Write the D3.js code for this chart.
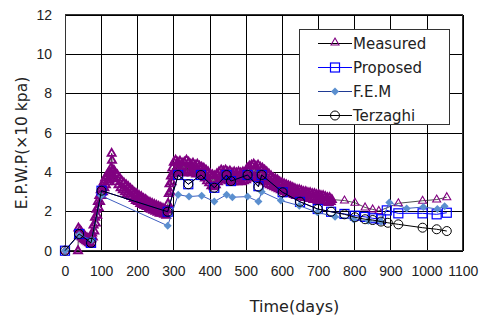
<!DOCTYPE html>
<html>
<head>
<meta charset="utf-8">
<script src="https://cdn.jsdelivr.net/npm/d3@7"></script>
<style>
  body { margin: 0; background: #fff; }
  svg { display: block; font-family: "DejaVu Sans", sans-serif; }
  .grid line { stroke: #000; stroke-width: 1; shape-rendering: crispEdges; }
  .grid path { display: none; }
  .grid text { fill: #222; font-size: 14px; }
</style>
</head>
<body>
<div id="chart"></div>
<script>
// Measured (days, ×10 kPa)
var measured = [
  [0,0],[36,0.0],[37,1.15],[39,0.8],[41,1.05],[43,0.75],[45,0.95],[47,0.7],[49,0.85],[51,0.6],[53,0.8],
  [55,0.55],[57,0.7],[59,0.5],[61,0.65],[63,0.45],[65,0.6],[67,0.4],[69,0.55],[71,0.35],[73,0.6],[75,0.9],
  [77,0.7],[79,1.3],[81,1.0],[83,1.7],[85,1.4],[87,2.1],[89,1.8],[91,2.5],[93,2.2],[95,2.8],[97,2.5],
  [99,3.1],[101,2.8],[103,3.3],[105,3.0],[107,3.5],[109,3.2],[111,3.7],[113,3.35],[115,3.8],[117,3.5],
  [119,3.9],[121,3.6],[123,4.0],[125,3.7],[127,4.2],[129,4.95],[130,4.6],[131,4.1],[133,3.7],[135,4.1],
  [137,3.65],[139,3.95],[142,3.5],[145,3.85],[148,3.35],[151,3.7],[154,3.2],[157,3.55],[160,3.1],
  [163,3.45],[166,3.0],[169,3.35],[172,2.9],[175,3.25],[178,2.8],[181,3.15],[184,2.75],[187,3.05],
  [190,2.65],[193,2.95],[196,2.55],[199,2.9],[202,2.5],[205,2.8],[208,2.4],[211,2.75],[214,2.35],
  [217,2.65],[220,2.3],[223,2.6],[226,2.25],[229,2.5],[232,2.15],[235,2.45],[238,2.1],[241,2.4],
  [244,2.05],[247,2.35],[250,2.0],[253,2.3],[256,1.95],[259,2.25],[262,1.9],[265,2.2],[268,1.9],
  [271,2.15],[274,1.85],[277,2.1],[280,1.8],[283,2.05],[285,2.4],[287,2.9],[289,3.4],[291,3.0],
  [293,3.8],[295,3.5],[297,4.2],[299,3.9],[301,4.5],[303,4.0],[306,4.6],[309,4.1],[312,4.5],[315,4.0],
  [318,4.55],[321,4.05],[324,4.45],[327,3.95],[330,4.5],[333,4.0],[336,4.6],[339,4.1],[342,4.5],
  [345,4.0],[348,4.4],[351,3.95],[354,4.45],[357,4.0],[360,4.35],[363,3.9],[366,4.4],[369,3.95],
  [372,4.3],[375,3.85],[378,4.25],[381,3.8],[384,4.2],[387,3.7],[390,4.1],[393,3.55],[396,4.0],
  [399,3.45],[402,3.9],[405,3.3],[408,3.85],[411,3.25],[414,3.8],[417,3.35],[420,3.9],[423,3.5],
  [426,4.0],[429,3.6],[432,4.1],[435,3.6],[438,4.05],[441,3.65],[444,4.1],[447,3.6],[450,4.0],
  [453,3.55],[456,4.05],[459,3.5],[462,3.95],[465,3.5],[468,4.0],[471,3.55],[474,3.95],[477,3.5],
  [480,4.0],[483,3.55],[486,3.95],[489,3.5],[492,4.0],[495,3.55],[498,3.95],[501,3.6],[504,4.2],
  [507,3.7],[510,4.3],[513,3.75],[516,4.35],[519,3.8],[522,4.4],[525,3.75],[528,4.3],[531,3.7],
  [534,4.35],[537,3.65],[540,4.25],[543,3.6],[546,4.2],[549,3.55],[552,4.1],[555,3.5],[558,4.0],
  [561,3.4],[564,3.9],[567,3.35],[570,3.8],[573,3.3],[576,3.7],[579,3.25],[582,3.65],[585,3.2],
  [588,3.6],[591,3.15],[594,3.5],[597,3.1],[600,3.45],[603,3.05],[606,3.4],[609,3.0],[612,3.35],
  [615,2.95],[618,3.3],[621,2.9],[624,3.25],[627,2.9],[630,3.2],[633,2.85],[636,3.15],[639,2.8],
  [642,3.1],[645,2.8],[648,3.1],[651,2.75],[654,3.05],[657,2.75],[660,3.0],[663,2.7],[666,3.0],
  [669,2.7],[672,2.95],[675,2.65],[678,2.95],[681,2.65],[684,2.9],[687,2.6],[690,2.9],[693,2.6],
  [696,2.85],[699,2.55],[702,2.85],[705,2.55],[708,2.8],[711,2.5],[714,2.8],[717,2.5],[720,2.75],
  [723,2.5],[726,2.7],[729,2.45],[732,2.7],[735,2.5],[738,2.6],
  [773,2.55],[802,2.44],[830,2.2],[851,2.1],[868,2.02],[922,2.41],[989,2.54],[1028,2.6],[1056,2.72]
];
var proposed = [
  [0,0],[39,0.85],[72,0.4],[101,3.05],[284,1.98],[313,3.85],[341,3.38],[376,3.85],[413,3.2],
  [447,3.85],[459,3.54],[505,3.85],[535,3.28],[544,3.85],[602,2.97],[650,2.48],[699,2.12],
  [736,1.98],[773,1.87],[802,1.78],[830,1.72],[851,1.65],[874,1.6],[890,2.05],[922,1.9],
  [989,1.9],[1028,1.85],[1056,1.93]
];
var fem = [
  [0,0],[39,0.8],[74,0.55],[100,2.8],[284,1.27],[313,2.85],[343,2.75],[378,2.8],[413,2.5],
  [447,2.85],[463,2.72],[505,2.75],[535,2.5],[544,3.0],[597,2.55],[648,2.29],[698,1.95],
  [747,1.73],[798,1.6],[839,1.52],[874,1.48],[897,2.45],[945,2.15],[991,2.22],[1030,2.12],[1050,2.26]
];
var terzaghi = [
  [0,0],[39,0.85],[72,0.4],[101,3.05],[284,1.98],[313,3.85],[341,3.38],[376,3.85],[413,3.2],
  [447,3.85],[459,3.54],[505,3.85],[535,3.25],[544,3.85],[602,2.97],[650,2.49],[699,2.12],
  [736,1.98],[773,1.85],[802,1.7],[830,1.6],[851,1.56],[874,1.48],[893,1.42],[922,1.34],
  [989,1.17],[1028,1.09],[1056,1.0]
];
var xTicks = [0,100,200,300,400,500,600,700,800,900,1000,1100];
var yTicks = [0,2,4,6,8,10,12];
var seriesNames = ["Measured","Proposed","F.E.M","Terzaghi"];

var W = 480, H = 322,
    plotL = 65, plotR = 462.7, plotT = 14.7, plotB = 250.7;

var svg = d3.select("#chart").append("svg").attr("width", W).attr("height", H);

var x = d3.scaleLinear().domain([0, 1100]).range([plotL, plotR]);
var y = d3.scaleLinear().domain([0, 12]).range([plotB, plotT]);

svg.append("g")
  .attr("class", "grid")
  .attr("transform", "translate(0," + plotB + ")")
  .call(d3.axisBottom(x).tickValues(xTicks).tickSize(-(plotB - plotT)).tickPadding(15).tickFormat(d3.format("d")));

svg.append("g")
  .attr("class", "grid")
  .attr("transform", "translate(" + plotL + ",0)")
  .call(d3.axisLeft(y).tickValues(yTicks).tickSize(-(plotR - plotL)).tickPadding(13));

svg.append("rect")
  .attr("x", plotL).attr("y", plotT)
  .attr("width", plotR - plotL).attr("height", plotB - plotT)
  .attr("fill", "none").attr("stroke", "#333").attr("shape-rendering", "crispEdges");

var line = d3.line().x(function(d) { return x(d[0]); }).y(function(d) { return y(d[1]); });

var styles = [
  {data: measured, line: "#222", lw: 0.8, marker: "tri", color: "#800080"},
  {data: proposed, line: "#0000ff", lw: 1, marker: "sq", color: "#0000ff"},
  {data: fem, line: "#3f5ec0", lw: 1, marker: "dia", color: "#5b8fcf"},
  {data: terzaghi, line: "#000", lw: 1, marker: "circ", color: "#000"}
];

function marker(g, type, color, sw) {
  if (type === "tri") {
    g.append("path").attr("d", "M0,-4.5L4,2.5L-4,2.5Z")
      .attr("fill", "none").attr("stroke", color).attr("stroke-width", sw || 1.1);
  } else if (type === "sq") {
    g.append("rect").attr("x", -4.5).attr("y", -4.5).attr("width", 9).attr("height", 9)
      .attr("fill", "none").attr("stroke", color).attr("stroke-width", 1.2);
  } else if (type === "dia") {
    g.append("path").attr("d", "M0,-4L4,0L0,4L-4,0Z").attr("fill", color);
  } else {
    g.append("circle").attr("r", 4.5)
      .attr("fill", "none").attr("stroke", color).attr("stroke-width", 1);
  }
}

styles.forEach(function(s) {
  var pts = s.data;
  svg.append("path").datum(pts)
    .attr("d", line).attr("fill", "none")
    .attr("stroke", s.line).attr("stroke-width", s.lw);
  svg.append("g").selectAll("g")
    .data(pts).enter().append("g")
    .attr("transform", function(d) { return "translate(" + x(d[0]) + "," + y(d[1]) + ")"; })
    .each(function(d, i) {
      // densely logged readings merge into a solid band
      var prev = pts[i - 1], next = pts[i + 1];
      var dense = (prev && d[0] - prev[0] < 8) || (next && next[0] - d[0] < 8);
      marker(d3.select(this), s.marker, s.color, dense ? 1.9 : 1.1);
    });
});

// legend
var lg = svg.append("g");
lg.append("rect").attr("x", 299.5).attr("y", 29.5).attr("width", 150).attr("height", 95)
  .attr("fill", "#fff").attr("stroke", "#333");
var legendLine = ["#000", "#0000ff", "#1f3a93", "#000"];
seriesNames.forEach(function(name, i) {
  var ly = 43.5 + i * 24;
  lg.append("line").attr("x1", 318).attr("x2", 352).attr("y1", ly).attr("y2", ly)
    .attr("stroke", legendLine[i]).attr("stroke-width", 1);
  var m = lg.append("g").attr("transform", "translate(335," + (ly - (i === 0 ? 1 : 0)) + ")");
  marker(m, styles[i].marker, styles[i].color);
  lg.append("text").attr("x", 353).attr("y", ly + 5.5)
    .attr("font-size", 15).attr("fill", "#222").text(name);
});

svg.append("text")
  .attr("transform", "translate(27,143) rotate(-90)")
  .attr("text-anchor", "middle").attr("font-size", 15.5).attr("fill", "#222")
  .text("E.P.W.P(×10 kpa)");

svg.append("text")
  .attr("x", 294.5).attr("y", 312)
  .attr("text-anchor", "middle").attr("font-size", 16).attr("fill", "#222")
  .text("Time(days)");
</script>
</body>
</html>
